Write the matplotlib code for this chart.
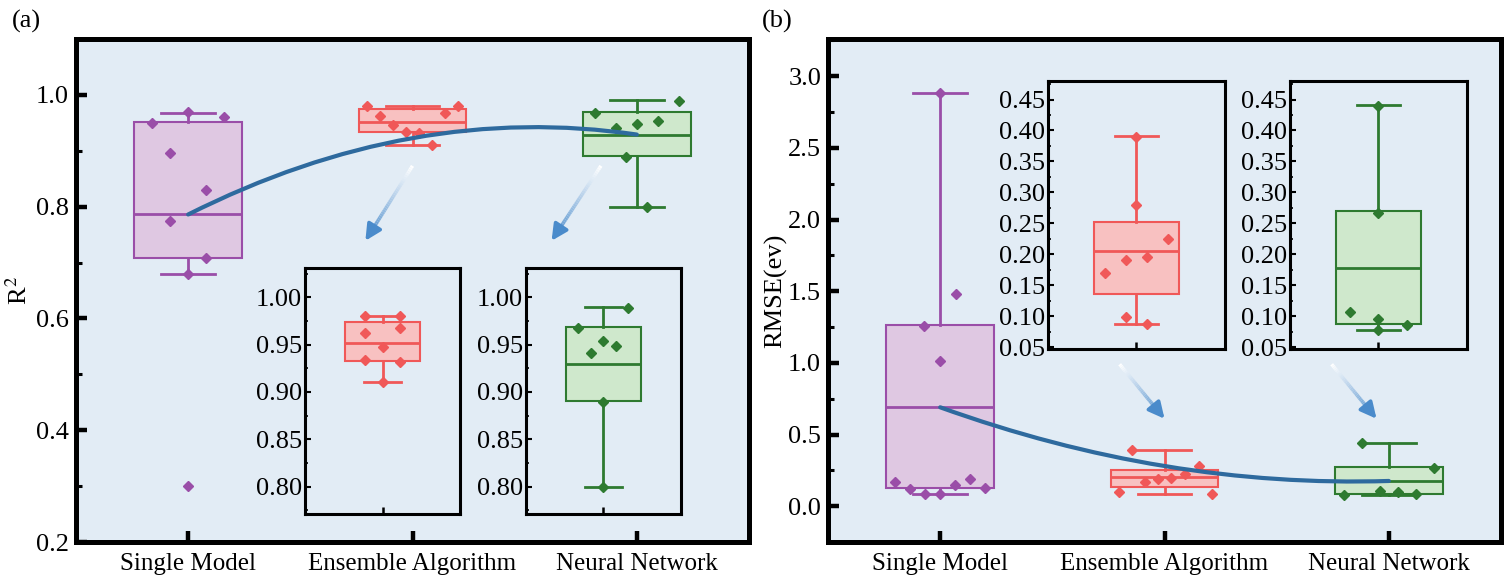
import numpy as np
import matplotlib
matplotlib.use("Agg")
import matplotlib.pyplot as plt
from matplotlib.path import Path
from matplotlib.patches import PathPatch
from matplotlib.collections import LineCollection
from matplotlib.ticker import AutoMinorLocator, MultipleLocator
from matplotlib.colors import to_rgb

plt.rcParams["font.family"] = ["Liberation Serif", "DejaVu Serif"]
plt.rcParams["mathtext.fontset"] = "stix"

# ----------------------------------------------------------
# DATA
# ----------------------------------------------------------
groups = ["Single Model", "Ensemble Algorithm", "Neural Network"]

# box statistics: (whislo, q1, med, q3, whishi)
r2_stats = [
    (0.680, 0.709, 0.786, 0.952, 0.968),
    (0.910, 0.933, 0.952, 0.974, 0.980),
    (0.800, 0.890, 0.929, 0.969, 0.990),
]
rmse_stats = [
    (0.082, 0.129, 0.690, 1.265, 2.880),
    (0.088, 0.136, 0.205, 0.252, 0.391),
    (0.077, 0.087, 0.178, 0.270, 0.441),
]

# individual points
r2_single = [0.950, 0.970, 0.961, 0.896, 0.830, 0.775, 0.709, 0.680, 0.300]
r2_ensemble = [0.980, 0.962, 0.947, 0.934, 0.932, 0.910, 0.968, 0.980]
r2_neural = [0.968, 0.941, 0.948, 0.954, 0.989, 0.889, 0.800]

rmse_single = [2.88, 1.48, 1.26, 1.01, 0.166, 0.122, 0.082, 0.082, 0.145, 0.188, 0.129]
rmse_ensemble = [0.390, 0.279, 0.224, 0.195, 0.191, 0.170, 0.098, 0.088]
rmse_neural = [0.440, 0.267, 0.107, 0.096, 0.086, 0.077]

# horizontal jitter of the points (main panels / insets)
jit_r2 = [
    [-0.16, 0, 0.16, -0.08, 0.08, -0.08, 0.08, 0, 0],
    [-0.204, -0.147, -0.089, -0.03, 0.03, 0.089, 0.147, 0.204],
    [-0.187, -0.093, 0, 0.093, 0.187, -0.049, 0.044],
]
jit_r2_inset = [
    None,
    [-0.115, -0.115, 0, -0.115, 0.115, 0, 0.115, 0.115],
    [-0.163, -0.083, 0.08, 0, 0.157, 0, 0],
]
jit_rmse = [
    [0, 0.07, -0.07, 0, -0.2, -0.135, -0.067, 0, 0.067, 0.135, 0.2],
    [-0.147, 0.152, 0.092, 0.031, -0.027, -0.087, -0.205, 0.21],
    [-0.12, 0.2, -0.04, 0.04, 0.12, -0.2],
]
jit_rmse_inset = [
    None,
    [0, 0, 0.18, 0.06, -0.06, -0.18, -0.06, 0.06],
    [0, 0, -0.16, 0, 0.16, 0],
]

# trend curve (quadratic Bezier: start, control, end)
trend_x = [1, 2, 3]
trend_r2 = [0.786, 0.988, 0.929]
trend_rmse = [0.690, 0.127, 0.176]

# arrows pointing from main boxes to the insets (start, end)
arrows_r2 = [((2.00, 0.873), (1.79, 0.739)), ((2.84, 0.873), (2.62, 0.739))]
arrows_rmse = [((1.80, 0.99), (2.00, 0.61)), ((2.745, 0.99), (2.945, 0.61))]

# ----------------------------------------------------------
# STYLE
# ----------------------------------------------------------
BG = "#e2ecf5"
EDGE = ["#9a4ea8", "#f05858", "#2e7a30"]
FILL = ["#dfc8e2", "#f8c1c1", "#cfe8cc"]
TREND = "#2e6a9e"
ARROW = "#4a8bcb"
FS_Y = 19
FS_X = 18


def stats_dict(s):
    lo, q1, med, q3, hi = s
    return dict(whislo=lo, q1=q1, med=med, q3=q3, whishi=hi, fliers=[])


def draw_box(ax, s, pos, k, lw=1.5):
    ax.bxp([stats_dict(s)], positions=[pos], widths=0.48, patch_artist=True,
           showfliers=False,
           boxprops=dict(facecolor=FILL[k], edgecolor=EDGE[k], linewidth=lw),
           medianprops=dict(color=EDGE[k], linewidth=lw + 0.5),
           whiskerprops=dict(color=EDGE[k], linewidth=lw + 0.5),
           capprops=dict(color=EDGE[k], linewidth=lw + 0.5), zorder=2)


def draw_points(ax, vals, pos, jit, k):
    ax.plot(pos + np.array(jit), vals, "D", color=EDGE[k], ms=5,
            mec=EDGE[k], zorder=4)


def trend(ax, ys):
    verts = list(zip(trend_x, ys))
    path = Path(verts, [Path.MOVETO, Path.CURVE3, Path.CURVE3])
    ax.add_patch(PathPatch(path, fill=False, edgecolor=TREND, lw=3.0,
                           capstyle="round", zorder=5))


def grad_arrow(ax, start, end):
    n = 40
    xs = np.linspace(start[0], end[0], n)
    ys = np.linspace(start[1], end[1], n)
    seg = np.stack([np.column_stack([xs[:-1], ys[:-1]]),
                    np.column_stack([xs[1:], ys[1:]])], axis=1)
    c0 = np.array([1, 1, 1])
    c1 = np.array(to_rgb(ARROW))
    t = np.linspace(0, 1, n - 1)[:, None]
    cols = c0 * (1 - t) + c1 * t
    ax.add_collection(LineCollection(seg[:-3], colors=cols[:-3], lw=2.6,
                                     zorder=3))
    ax.annotate("", xy=end, xytext=(xs[-6], ys[-6]),
                arrowprops=dict(arrowstyle="-|>", color=ARROW, lw=2.6,
                                mutation_scale=24, shrinkA=0, shrinkB=0),
                zorder=3)


def style_main(ax, ylim, major, ylabel):
    ax.set_facecolor(BG)
    ax.set_xlim(0.5, 3.5)
    ax.set_ylim(*ylim)
    ax.set_xticks([1, 2, 3])
    ax.set_xticklabels(groups)
    ax.yaxis.set_major_locator(MultipleLocator(major))
    ax.yaxis.set_minor_locator(AutoMinorLocator(2))
    ax.tick_params(axis="x", which="both", direction="in", length=8,
                   width=3.2, labelsize=FS_X, pad=8)
    ax.tick_params(axis="y", which="major", direction="in", length=8,
                   width=3.2, labelsize=FS_Y, pad=5)
    ax.tick_params(axis="y", which="minor", direction="in", length=4,
                   width=2.2)
    ax.tick_params(axis="x", which="minor", bottom=False)
    for sp in ax.spines.values():
        sp.set_linewidth(3.6)
    ax.set_ylabel(ylabel, fontsize=FS_Y)


def style_inset(ax, ylim, major, fmt):
    ax.set_facecolor(BG)
    ax.set_xlim(0.5, 1.5)
    ax.set_ylim(*ylim)
    ax.set_xticks([1])
    ax.set_xticklabels([])
    ax.yaxis.set_major_locator(MultipleLocator(major))
    ax.yaxis.set_minor_locator(AutoMinorLocator(2))
    ax.yaxis.set_major_formatter(fmt)
    ax.tick_params(axis="x", which="major", direction="in", length=5,
                   width=1.8)
    ax.tick_params(axis="x", which="minor", bottom=False)
    ax.tick_params(axis="y", which="major", direction="in", length=4,
                   width=1.5, labelsize=FS_Y, pad=2)
    ax.tick_params(axis="y", which="minor", direction="in", length=2.5,
                   width=1.2)
    for sp in ax.spines.values():
        sp.set_linewidth(2.2)


fig = plt.figure(figsize=(15.11, 5.88), dpi=100)

# ----------------------------------------------------------
# (a) R2
# ----------------------------------------------------------
ax1 = fig.add_axes([0.0503, 0.0782, 0.4454, 0.8555])
r2_points = [r2_single, r2_ensemble, r2_neural]
for k in range(3):
    draw_box(ax1, r2_stats[k], k + 1, k)
    draw_points(ax1, r2_points[k], k + 1, jit_r2[k], k)
trend(ax1, trend_r2)
for s, e in arrows_r2:
    grad_arrow(ax1, s, e)
style_main(ax1, (0.2, 1.1), 0.2, "R$^2$")
ax1.yaxis.set_major_formatter("{x:.1f}")
ax1.yaxis.set_label_coords(-0.066, 0.5)

for k, left in [(1, 0.2019), (2, 0.3481)]:
    ins = fig.add_axes([left, 0.1259, 0.1025, 0.4184])
    draw_box(ins, r2_stats[k], 1, k)
    draw_points(ins, r2_points[k], 1, jit_r2_inset[k], k)
    style_inset(ins, (0.771, 1.031), 0.05, "{x:.2f}")

# ----------------------------------------------------------
# (b) RMSE
# ----------------------------------------------------------
ax2 = fig.add_axes([0.548, 0.0782, 0.4454, 0.8555])
rmse_points = [rmse_single, rmse_ensemble, rmse_neural]
for k in range(3):
    draw_box(ax2, rmse_stats[k], k + 1, k)
    draw_points(ax2, rmse_points[k], k + 1, jit_rmse[k], k)
trend(ax2, trend_rmse)
for s, e in arrows_rmse:
    grad_arrow(ax2, s, e)
style_main(ax2, (-0.25, 3.26), 0.5, "RMSE(ev)")
ax2.yaxis.set_major_formatter("{x:.1f}")
ax2.yaxis.set_label_coords(-0.061, 0.5)

for k, left in [(1, 0.6936), (2, 0.8537)]:
    ins = fig.add_axes([left, 0.4065, 0.1171, 0.4558])
    draw_box(ins, rmse_stats[k], 1, k)
    draw_points(ins, rmse_points[k], 1, jit_rmse_inset[k], k)
    style_inset(ins, (0.047, 0.48), 0.05, "{x:.2f}")

fig.text(0.008, 0.964, "(a)", fontsize=FS_Y, va="center")
fig.text(0.504, 0.964, "(b)", fontsize=FS_Y, va="center")

fig.savefig("out.png", dpi=100)
